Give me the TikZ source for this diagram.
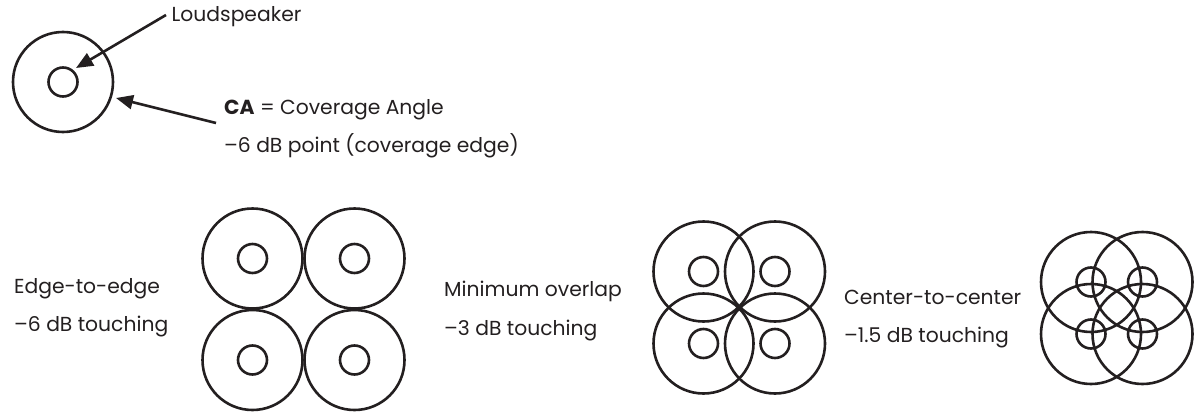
\documentclass[tikz,border=0pt]{standalone}
\usepackage{fontspec}
\setmainfont{Poppins}
\usetikzlibrary{arrows.meta}
\definecolor{ink}{HTML}{231F20}
\begin{document}
\begin{tikzpicture}[x=1pt,y=-1pt,
  big/.style={circle,draw=ink,line width=2.6pt,minimum size=100pt,inner sep=0pt},
  small/.style={circle,draw=ink,line width=2.6pt,minimum size=29pt,inner sep=0pt},
  lbl/.style={anchor=base west,inner sep=0pt,text=ink,font=\fontsize{20.3}{24}\selectfont},
  pointer/.style={draw=ink,line width=2.6pt,-{Triangle[length=17pt,width=14pt]}}]
\useasboundingbox (0,0) rectangle (1201,417);
% top legend
\node[big] (lb) at (63,82) {};
\node[small] (ls) at (63,82) {};
\node[lbl] (tloud) at (171.5,21.7) {Loudspeaker};
\node[lbl] (tca) at (224,114) {\textbf{CA} = Coverage Angle};
\node[lbl] (tdb) at (224,152.3) {–6 dB point (coverage edge)};
\coordinate (a1) at (166,15);
\coordinate (a2) at (216,123);
\coordinate (t1) at (76,68);
\coordinate (t2) at (116,98);
\draw[pointer] (a1) -- (t1);
\draw[pointer] (a2) -- (t2);
% group 1: edge-to-edge
\node[lbl] (e1) at (14,293.3) {Edge-to-edge};
\node[lbl] (e2) at (14,331.7) {–6 dB touching};
\foreach \n/\x/\y in {a/252.5/258.5,b/354.5/258.5,c/252.5/360,d/354.5/360}{
  \node[big] (g1\n) at (\x,\y) {};
  \node[small] (g1s\n) at (\x,\y) {};
}
% group 2: minimum overlap
\node[lbl] (m1) at (444,296.7) {Minimum overlap};
\node[lbl] (m2) at (444,335) {–3 dB touching};
\foreach \n/\x/\y in {a/703.5/271.5,b/775/271.5,c/703.5/343.5,d/775/343.5}{
  \node[big] (g2\n) at (\x,\y) {};
  \node[small] (g2s\n) at (\x,\y) {};
}
% group 3: center-to-center
\node[lbl] (c1) at (844,304.3) {Center-to-center};
\node[lbl] (c2) at (844,342.7) {–1.5 dB touching};
\foreach \n/\x/\y in {a/1091/282,b/1142.5/282,c/1091/334,d/1142.5/334}{
  \node[big] (g3\n) at (\x,\y) {};
  \node[small] (g3s\n) at (\x,\y) {};
}
\end{tikzpicture}
\end{document}
